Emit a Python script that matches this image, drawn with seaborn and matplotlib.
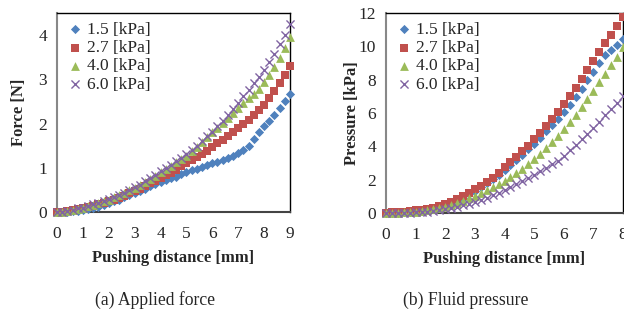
import matplotlib
matplotlib.use("Agg")
import matplotlib.pyplot as plt
import numpy as np
import pandas as pd
import seaborn as sns

# pushing distance [mm], 0.2 mm steps
dist_force = [round(0.2 * i, 1) for i in range(46)]     # 0 .. 9
dist_pressure = [round(0.2 * i, 1) for i in range(41)]  # 0 .. 8

series_names = ["1.5 [kPa]", "2.7 [kPa]", "4.0 [kPa]", "6.0 [kPa]"]

# (a) force [N]
force_15 = [0.00, 0.00, 0.01, 0.02, 0.03, 0.05, 0.07, 0.09, 0.12, 0.16,
            0.20, 0.24, 0.28, 0.33, 0.38, 0.43, 0.48, 0.53, 0.58, 0.63,
            0.68, 0.72, 0.76, 0.80, 0.85, 0.90, 0.94, 0.98, 1.02, 1.06,
            1.10, 1.14, 1.18, 1.22, 1.27, 1.33, 1.40, 1.50, 1.64, 1.80,
            1.94, 2.06, 2.20, 2.35, 2.50, 2.66]
force_27 = [0.00, 0.01, 0.02, 0.04, 0.06, 0.09, 0.11, 0.14, 0.17, 0.20,
            0.24, 0.28, 0.32, 0.37, 0.42, 0.47, 0.53, 0.59, 0.65, 0.71,
            0.77, 0.83, 0.89, 0.96, 1.03, 1.10, 1.17, 1.24, 1.31, 1.39,
            1.47, 1.55, 1.63, 1.71, 1.80, 1.89, 1.98, 2.08, 2.19, 2.31,
            2.43, 2.57, 2.73, 2.91, 3.10, 3.31]
force_40 = [0.00, 0.01, 0.03, 0.05, 0.07, 0.10, 0.13, 0.16, 0.20, 0.24,
            0.28, 0.33, 0.38, 0.43, 0.49, 0.55, 0.61, 0.68, 0.75, 0.82,
            0.90, 0.97, 1.04, 1.12, 1.19, 1.27, 1.37, 1.47, 1.58, 1.69,
            1.80, 1.90, 2.01, 2.12, 2.23, 2.35, 2.46, 2.57, 2.67, 2.79,
            2.93, 3.09, 3.28, 3.49, 3.71, 3.95]
force_60 = [0.00, 0.01, 0.03, 0.05, 0.08, 0.10, 0.13, 0.17, 0.21, 0.25,
            0.29, 0.34, 0.39, 0.44, 0.50, 0.56, 0.62, 0.69, 0.76, 0.84,
            0.92, 0.99, 1.07, 1.15, 1.23, 1.31, 1.40, 1.50, 1.60, 1.71,
            1.82, 1.94, 2.06, 2.19, 2.33, 2.47, 2.62, 2.76, 2.91, 3.06,
            3.22, 3.39, 3.58, 3.79, 4.01, 4.24]

# (b) fluid pressure [kPa]
press_15 = [0.00, 0.01, 0.02, 0.04, 0.06, 0.09, 0.13, 0.18, 0.25, 0.34,
            0.45, 0.58, 0.74, 0.92, 1.12, 1.33, 1.55, 1.78, 2.02, 2.28,
            2.56, 2.86, 3.17, 3.49, 3.82, 4.16, 4.52, 4.89, 5.27, 5.66,
            6.06, 6.48, 6.95, 7.45, 7.97, 8.48, 9.02, 9.48, 9.80, 10.10,
            10.42]
press_27 = [0.00, 0.03, 0.05, 0.08, 0.11, 0.15, 0.19, 0.25, 0.32, 0.41,
            0.52, 0.65, 0.82, 1.00, 1.20, 1.41, 1.63, 1.87, 2.12, 2.42,
            2.74, 3.05, 3.36, 3.70, 4.04, 4.42, 4.82, 5.22, 5.64, 6.08,
            6.54, 7.00, 7.52, 8.05, 8.58, 9.10, 9.64, 10.18, 10.70, 11.20,
            11.74]
press_40 = [0.00, 0.01, 0.02, 0.03, 0.05, 0.07, 0.11, 0.16, 0.22, 0.29,
            0.38, 0.48, 0.60, 0.73, 0.87, 1.02, 1.18, 1.35, 1.53, 1.72,
            1.92, 2.14, 2.38, 2.66, 2.94, 3.22, 3.54, 3.88, 4.24, 4.62,
            5.02, 5.44, 5.88, 6.34, 6.84, 7.34, 7.86, 8.34, 8.86, 9.38,
            9.94]
press_60 = [0.00, 0.00, 0.01, 0.01, 0.02, 0.03, 0.05, 0.08, 0.11, 0.16,
            0.22, 0.29, 0.37, 0.46, 0.56, 0.67, 0.79, 0.91, 1.05, 1.20,
            1.37, 1.54, 1.72, 1.91, 2.10, 2.30, 2.50, 2.70, 2.92, 3.12,
            3.44, 3.76, 4.09, 4.42, 4.76, 5.12, 5.48, 5.86, 6.24, 6.62,
            7.00]

colors = ["#4F81BD", "#C0504D", "#9BBB59", "#8064A2"]
markers = ["D", "s", "^", "x"]
sizes = [22, 40, 40, 34]

sns.set_style("white")
plt.rcParams["font.family"] = ["Liberation Serif", "DejaVu Serif"]

fig = plt.figure(figsize=(6.24, 3.14), dpi=100)
ax1 = fig.add_axes([0.0913, 0.3248, 0.3734, 0.6338])
ax2 = fig.add_axes([0.6186, 0.3217, 0.3798, 0.6369])


def draw(ax, xs, ys_list, xmax, ymax, yticks, ylabel, ylabelpad):
    for name, ys, c, m, s in zip(series_names, ys_list, colors, markers, sizes):
        df = pd.DataFrame({"x": xs, "y": ys})
        lw = 1.0 if m == "x" else 0
        sns.scatterplot(data=df, x="x", y="y", ax=ax, marker=m, color=c,
                        s=s, linewidth=lw, label=name, clip_on=False,
                        zorder=3)
    ax.set_xlim(0, xmax)
    ax.set_ylim(0, ymax)
    ax.set_xticks(range(0, xmax + 1))
    ax.set_yticks(yticks)
    ax.tick_params(length=0, labelsize=12.5)
    ax.tick_params(axis="x", pad=10)
    ax.tick_params(axis="y", pad=7)
    ax.set_xlabel("Pushing distance [mm]", fontsize=12, fontweight="bold",
                  labelpad=6)
    ax.set_ylabel(ylabel, fontsize=12, fontweight="bold", labelpad=ylabelpad)
    for side in ["top", "right"]:
        ax.spines[side].set_color("black")
        ax.spines[side].set_linewidth(1.0)
    ax.spines["left"].set_color("#888888")
    ax.spines["left"].set_linewidth(1.5)
    ax.spines["bottom"].set_color("#444444")
    ax.spines["bottom"].set_linewidth(1.5)
    ax.legend(loc="upper left", frameon=False, fontsize=12.5,
              handletextpad=0.1, labelspacing=0.12, borderaxespad=0.1,
              handlelength=1.2, bbox_to_anchor=(-0.005, 1.0))


draw(ax1, dist_force, [force_15, force_27, force_40, force_60],
     9, 4.5, [0, 1, 2, 3, 4], "Force [N]", 8)
draw(ax2, dist_pressure, [press_15, press_27, press_40, press_60],
     8, 12, [0, 2, 4, 6, 8, 10, 12], "Pressure [kPa]", -1)

fig.text(0.248, 0.03, "(a) Applied force", ha="center", fontsize=12.7)
fig.text(0.747, 0.03, "(b) Fluid pressure", ha="center", fontsize=12.7)

fig.savefig("out.png", dpi=100)
